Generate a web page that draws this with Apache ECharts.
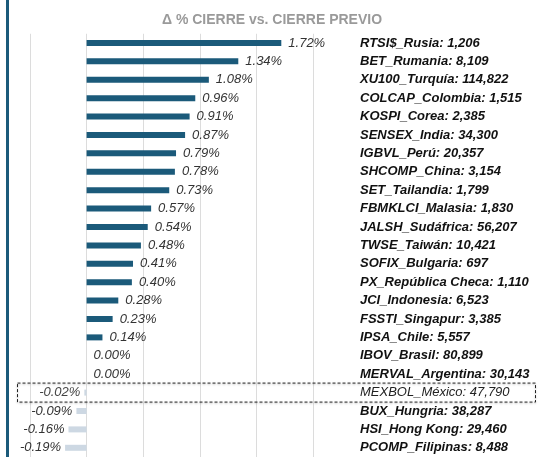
<!DOCTYPE html>
<html><head><meta charset="utf-8">
<script src="https://cdn.jsdelivr.net/npm/echarts@6/dist/echarts.min.js"></script>
<style>html,body{margin:0;padding:0;background:#fff}#c{width:540px;height:457px}</style>
</head><body><div id="c"></div>
<script>
const categories = ["RTSI$_Rusia: 1,206","BET_Rumania: 8,109","XU100_Turquía: 114,822","COLCAP_Colombia: 1,515","KOSPI_Corea: 2,385","SENSEX_India: 34,300","IGBVL_Perú: 20,357","SHCOMP_China: 3,154","SET_Tailandia: 1,799","FBMKLCI_Malasia: 1,830","JALSH_Sudáfrica: 56,207","TWSE_Taiwán: 10,421","SOFIX_Bulgaria: 697","PX_República Checa: 1,110","JCI_Indonesia: 6,523","FSSTI_Singapur: 3,385","IPSA_Chile: 5,557","IBOV_Brasil: 80,899","MERVAL_Argentina: 30,143","MEXBOL_México: 47,790","BUX_Hungria: 38,287","HSI_Hong Kong: 29,460","PCOMP_Filipinas: 8,488"];
const values = [1.72,1.34,1.08,0.96,0.91,0.87,0.79,0.78,0.73,0.57,0.54,0.48,0.41,0.40,0.28,0.23,0.14,0.00,0.00,-0.02,-0.09,-0.16,-0.19];
const highlight = "MEXBOL_México: 47,790";
const titleText = "\u0394 % CIERRE vs. CIERRE PREVIO";

const chart = echarts.init(document.getElementById('c'));
const data = values.map((v, i) => ({
  value: v,
  itemStyle: { color: v < 0 ? '#cdd8e3' : '#1b5a7a' },
  label: { position: v < 0 ? 'left' : 'right', distance: v < 0 ? 4 : 7,
           color: categories[i] === highlight ? '#444' : '#333' }
}));
chart.setOption({
  animation: false,
  title: { text: titleText, left: 267, top: 8, textAlign: 'center',
           textStyle: { color: '#9a9a9a', fontSize: 14, fontWeight: 'bold', fontFamily: 'Liberation Sans' } },
  grid: { left: 30, width: 283, top: 33.75, height: 425.5 },
  xAxis: { type: 'value', min: -0.5, max: 2.0, interval: 0.5,
           axisLabel: { show: false }, axisLine: { show: false }, axisTick: { show: false },
           splitLine: { show: true, lineStyle: { color: '#dcdcdc', width: 1 } } },
  yAxis: { type: 'category', data: categories, inverse: true, position: 'right',
           axisLine: { show: false }, axisTick: { show: false },
           axisLabel: { margin: 47, align: 'left', fontSize: 13, fontFamily: 'Liberation Sans',
             formatter: (v) => v === highlight ? '{h|' + v + '}' : '{b|' + v + '}',
             rich: { b: { fontWeight: 'bold', fontStyle: 'italic', color: '#111', fontSize: 13, fontFamily: 'Liberation Sans' },
                     h: { fontWeight: 'normal', fontStyle: 'italic', color: '#222', fontSize: 13, fontFamily: 'Liberation Sans' } } } },
  series: [{ type: 'bar', data: data, barWidth: 6,
             label: { show: true, fontStyle: 'italic', fontSize: 13, fontFamily: 'Liberation Sans',
                      formatter: (p) => p.value.toFixed(2) + '%' } }],
  graphic: [{ type: 'rect', left: 6, top: 0, shape: { width: 3, height: 457 }, style: { fill: '#1b5a7a' } }]
});
const idx = categories.indexOf(highlight);
const yc = chart.convertToPixel({ yAxisIndex: 0 }, idx);
chart.setOption({ graphic: [
  { type: 'rect', left: 6, top: 0, shape: { width: 3, height: 457 }, style: { fill: '#1b5a7a' } },
  { type: 'rect', shape: { x: 17.5, y: yc - 9.5, width: 518, height: 19 },
    style: { fill: 'none', stroke: '#222', lineWidth: 1, lineDash: [3, 2],
             shadowColor: 'rgba(0,0,0,0.3)', shadowBlur: 2, shadowOffsetY: 1 }, z: 10 }
]}, { replaceMerge: ['graphic'] });
</script></body></html>
